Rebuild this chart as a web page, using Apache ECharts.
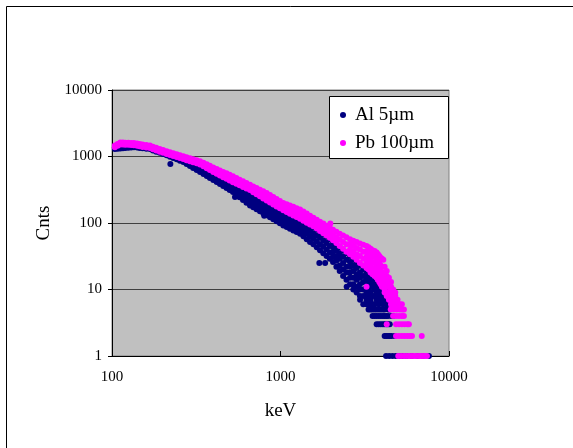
<!DOCTYPE html>
<html><head><meta charset="utf-8">
<script src="https://cdn.jsdelivr.net/npm/echarts@6/dist/echarts.min.js"></script>
<style>html,body{margin:0;padding:0;background:#fff}#c{width:573px;height:448px}</style>
</head><body><div id="c"></div>
<script>
// tick values
const xTicks = [100, 1000, 10000];
const yTicks = [1, 10, 100, 1000, 10000];
const seriesNames = ['Al 5\u00b5m', 'Pb 100\u00b5m'];
const xTitle = 'keV';
const yTitle = 'Cnts';

// Al 5um : [keV, counts]
const alData = [
[104,1360],[104,1300],[108,1377],[108,1312],[112,1393],[112,1321],[116,1409],[116,1334],[120,1426],[120,1343],
[125,1445],[125,1355],[130,1462],[130,1368],[135,1479],[135,1380],[141,1459],[141,1361],[146,1439],[146,1343],
[152,1419],[152,1327],[160,1400],[160,1309],[168,1380],[168,1291],[175,1334],[175,1236],[183,1288],[183,1183],
[192,1242],[192,1135],[201,1200],[201,1086],
[211,1159],[211,1098],[211,1040],[221,1114],[221,1052],[221,993],[222,770],[231,1072],[231,1008],[231,948],
[242,1028],[242,965],[242,906],[253,989],[253,925],[253,865],[265,951],[265,886],[265,826],
[277,910],[277,838],[277,771],[290,871],[290,791],[290,719],[303,836],[303,749],[303,671],[318,800],[318,708],[318,627],
[333,766],[333,669],[333,585],[349,719],[349,627],[349,546],[365,676],[365,587],[365,509],[381,634],[381,549],[381,475],
[399,596],[399,514],[399,444],[418,560],[418,481],[418,414],[437,524],[437,450],[437,386],[457,490],[457,420],[457,360],
[478,457],[478,392],[478,336],[499,428],[499,366],[499,313],[522,400],[522,342],[522,292],[537,245],
[547,378],[547,336],[547,299],[547,266],[572,356],[572,313],[572,276],[572,243],[599,337],[599,292],[599,255],[599,221],
[628,318],[628,273],[628,235],[628,202],[659,300],[659,255],[659,217],[659,184],[689,279],[689,238],[689,202],[689,172],
[721,260],[721,221],[721,189],[721,161],[755,242],[755,207],[755,176],[755,150],[790,225],[790,192],[790,164],[790,140],
[800,128],[828,210],[828,179],[828,153],[828,131],[866,196],[866,167],[866,143],[866,122],[906,184],[906,157],[906,133],[906,114],
[948,171],[948,146],[948,124],[948,106],[992,160],[992,136],[992,116],[992,99],[1039,150],[1039,127],[1039,108],[1039,92],
[1088,141],[1088,120],[1088,102],[1088,87],[1138,133],[1138,114],[1138,96],[1138,82],[1191,126],[1191,107],[1191,91],[1191,77],
[1247,119],[1247,101],[1247,86],[1247,73],[1306,112],[1306,95],[1306,81],[1306,69],[1367,105],[1367,88],[1367,75],[1367,63],
[1431,98],[1431,82],[1431,69],[1431,57],[1497,91],[1497,76],[1497,63],[1497,52],[1567,86],[1567,70],[1567,58],[1567,48],
[1641,80],[1641,65],[1641,53],[1641,43],[1700,25],[1716,73],[1716,60],[1716,48],[1716,39],[1795,67],[1795,54],[1795,44],[1795,35],
[1840,25],[1877,62],[1877,50],[1877,40],[1877,32],[1962,57],[1962,45],[1962,36],[1962,29],
[2050,52],[2050,44],[2050,37],[2050,31],[2050,26],[2146,47],[2146,39],[2146,32],[2146,27],[2146,22],
[2246,43],[2246,35],[2246,29],[2246,23],[2246,19],[2352,39],[2352,31],[2352,25],[2352,20],[2352,16],
[2463,35],[2463,28],[2463,22],[2463,18],[2463,14],[2470,11],
[2585,32],[2585,26],[2585,22],[2585,18],[2585,15],[2585,12],[2705,28],[2705,23],[2705,19],[2705,15],[2705,12],[2705,10],
[2830,25],[2830,21],[2830,17],[2830,14],[2830,11],[2830,9],[2961,23],[2961,18],[2961,15],[2961,12],[2961,10],[2961,8],[2966,7],
[3098,20],[3098,16],[3098,13],[3098,10],[3098,8],[3098,6],[3240,18],[3240,14],[3240,11],[3240,9],[3240,7],[3240,6],
[3331,16],[3331,13],[3331,10],[3331,8],[3331,6],[3331,5],[3424,15],[3424,12],[3424,9],[3424,7],[3424,6],[3424,5],
[3520,14],[3520,11],[3520,8],[3520,6],[3520,5],[3520,4],[3619,12],[3619,10],[3619,8],[3619,6],[3619,5],[3619,4],
[3720,11],[3720,9],[3720,7],[3720,5],[3720,4],[3720,3],[3830,10],[3830,8],[3830,6],[3830,5],[3830,4],[3830,3],
[3940,9],[3940,7],[3940,5],[3940,4],[3940,3],[4050,8],[4050,6],[4050,5],[4050,4],[4050,3],
[4150,7],[4150,5],[4150,4],[4150,3],[4150,2],[4250,6],[4250,4],[4250,3],[4250,2],[4350,5],[4350,4],[4350,3],[4350,2],
[4450,5],[4450,3],[4450,2],[4550,4],[4550,2],[4650,4],[4750,2],
[4230,1],[4420,1],[4620,1],[4830,1],[5050,1],[5300,1],[5600,1],[6000,1],[6500,1],[7000,1],[7600,1]
];

// Pb 100um : [keV, counts]
const pbData = [
[104,1460],[104,1380],[108,1540],[108,1450],[112,1620],[112,1520],[116,1620],[116,1510],[120,1610],[120,1500],
[125,1610],[125,1500],[130,1600],[130,1490],[135,1600],[135,1480],[141,1570],[141,1450],[146,1540],[146,1420],
[152,1510],[152,1390],[160,1490],[160,1370],[168,1460],[168,1340],[175,1400],[175,1290],[183,1350],[183,1230],
[192,1300],[192,1180],[201,1250],[201,1140],[211,1200],[211,1090],[221,1160],[221,1050],[231,1120],[231,1020],
[242,1080],[242,980],[253,1045],[253,946],[265,1009],[265,914],[277,975],[277,881],[290,942],[290,849],
[303,910],[303,818],[318,879],[318,789],
[333,849],[333,803],[333,760],[349,805],[349,758],[349,713],[365,764],[365,714],[365,668],[381,723],[381,672],[381,625],
[399,685],[399,634],[399,586],[418,650],[418,598],[418,550],[437,618],[437,566],[437,519],[457,587],[457,536],[457,489],
[478,558],[478,507],[478,461],[499,531],[499,481],[499,435],[522,505],[522,455],[522,410],[547,475],[547,430],[547,389],
[572,449],[572,406],[572,368],[599,423],[599,384],[599,349],[628,399],[628,363],[628,330],[659,376],[659,343],[659,313],
[689,355],[689,321],[689,291],[721,335],[721,301],[721,271],[755,316],[755,282],[755,252],[790,299],[790,265],[790,234],
[828,282],[828,248],[828,218],[866,263],[866,231],[866,203],[906,245],[906,216],[906,190],[948,230],[948,202],[948,177],
[992,214],[992,188],[992,166],[1039,200],[1039,176],[1039,155],[1088,191],[1088,167],[1088,146],[1138,183],[1138,159],[1138,138],
[1191,175],[1191,151],[1191,130],[1247,167],[1247,143],[1247,123],[1306,160],[1306,136],[1306,116],[1367,149],[1367,127],[1367,108],
[1431,139],[1431,118],[1431,101],[1497,129],[1497,111],[1497,95],[1567,120],[1567,103],[1567,89],[1641,112],[1641,96],[1641,83],
[1716,104],[1716,89],[1716,76],[1795,98],[1795,83],[1795,70],[1877,91],[1877,77],[1877,65],[1962,85],[1962,71],[1962,60],[1975,98],
[2050,79],[2050,66],[2050,55],[2146,74],[2146,61],[2146,50],[2246,69],[2246,56],[2246,45],[2352,65],[2352,52],[2352,41],
[2463,61],[2463,48],[2463,37],[2585,57],[2585,48],[2585,40],[2585,34],[2705,54],[2705,45],[2705,37],[2705,31],
[2830,52],[2830,42],[2830,34],[2830,28],[2961,49],[2961,40],[2961,32],[2961,25],[3098,47],[3098,37],[3098,29],[3098,23],
[3240,45],[3240,37],[3240,31],[3240,25],[3240,21],[3240,11],[3331,43],[3331,35],[3331,29],[3331,24],[3331,20],
[3424,41],[3424,34],[3424,28],[3424,22],[3424,18],[3520,39],[3520,32],[3520,26],[3520,21],[3520,17],
[3619,38],[3619,31],[3619,25],[3619,20],[3619,16],[3720,36],[3720,29],[3720,23],[3720,19],[3720,15],
[3790,34],[3790,27],[3790,22],[3790,18],[3790,14],[3860,32],[3860,25],[3860,20],[3860,16],[3860,13],
[3930,30],[3930,23],[3930,19],[3930,15],[3930,12],[4000,29],[4000,22],[4000,17],[4000,14],[4000,11],[4075,28],
[4150,22],[4150,18],[4150,15],[4150,12],[4150,10],[4150,9],[4270,19],[4270,16],[4270,13],[4270,11],[4270,9],[4270,8],
[4400,15],[4400,13],[4400,11],[4400,9],[4400,8],[4400,7],[4530,13],[4530,11],[4530,10],[4530,8],[4530,7],[4530,6],
[4660,10],[4660,9],[4660,8],[4660,7],[4660,6],[4800,9],[4800,8],[4800,7],[4800,6],[4950,7],[4950,6],
[5100,6],[5250,6],[5400,5],
[4510,5],[4700,5],[4900,5],[5100,5],[5270,5],
[4660,4],[4850,4],[5050,4],[5250,4],[5400,4],
[4270,3],[4850,3],[5050,3],[5250,3],[5450,3],[5650,3],[5780,3],
[4850,2],[5050,2],[5250,2],[5450,2],[5650,2],[5850,2],[6030,2],[6890,2],
[5000,1],[5200,1],[5400,1],[5600,1],[5800,1],[6000,1],[6200,1],[6400,1],[6600,1],[6800,1],[7000,1],[7200,1],[7400,1]
];

const FONT = '"Liberation Serif", "Times New Roman", serif';
const chart = echarts.init(document.getElementById('c'), null, {renderer: 'canvas'});
chart.setOption({
  animation: false,
  backgroundColor: '#fff',
  grid: {left: 112, top: 90, width: 337, height: 266, show: true, backgroundColor: '#c0c0c0', borderColor: '#808080', borderWidth: 1, containLabel: false},
  xAxis: {
    type: 'log', logBase: 10, min: xTicks[0], max: xTicks[xTicks.length - 1],
    axisLine: {show: true, onZero: false, lineStyle: {color: '#000', width: 1}},
    axisTick: {show: true, inside: true, length: 5, lineStyle: {color: '#000'}},
    minorTick: {show: false}, splitLine: {show: false},
    axisLabel: {color: '#000', fontFamily: FONT, fontSize: 15, margin: 14, formatter: v => String(Math.round(v))},
    name: xTitle, nameLocation: 'middle', nameGap: 46,
    nameTextStyle: {color: '#000', fontFamily: FONT, fontSize: 19}
  },
  yAxis: {
    type: 'log', logBase: 10, min: yTicks[0], max: yTicks[yTicks.length - 1],
    axisLine: {show: true, onZero: false, lineStyle: {color: '#000', width: 1}},
    axisTick: {show: true, inside: false, length: 4, lineStyle: {color: '#000'}},
    minorTick: {show: false},
    splitLine: {show: true, lineStyle: {color: '#404040', width: 1}},
    axisLabel: {color: '#000', fontFamily: FONT, fontSize: 15, margin: 10, formatter: v => String(Math.round(v))},
    name: yTitle, nameLocation: 'middle', nameGap: 58, nameRotate: 90,
    nameTextStyle: {color: '#000', fontFamily: FONT, fontSize: 19}
  },
  legend: {
    orient: 'vertical', left: 340, top: 105, padding: 0, itemWidth: 6, itemHeight: 6, itemGap: 8,
    icon: 'circle', z: 10, data: seriesNames,
    textStyle: {fontFamily: FONT, fontSize: 19, lineHeight: 20, color: '#000', padding: [0, 0, 0, 4]}
  },
  graphic: [
    {type: 'rect', silent: true, z: 0, shape: {x: 6.5, y: 6.5, width: 700, height: 700}, style: {fill: 'none', stroke: '#000', lineWidth: 1}},
    {type: 'rect', silent: true, z: 6, shape: {x: 329.5, y: 96.5, width: 119, height: 62}, style: {fill: '#fff', stroke: '#000', lineWidth: 1}}
  ],
  series: [
    {name: seriesNames[0], type: 'scatter', data: alData, symbol: 'circle', symbolSize: 6, itemStyle: {color: '#000080', opacity: 1}, emphasis: {disabled: true}},
    {name: seriesNames[1], type: 'scatter', data: pbData, symbol: 'circle', symbolSize: 6, itemStyle: {color: '#ff00ff', opacity: 1}, emphasis: {disabled: true}}
  ]
});
</script>
</body></html>
